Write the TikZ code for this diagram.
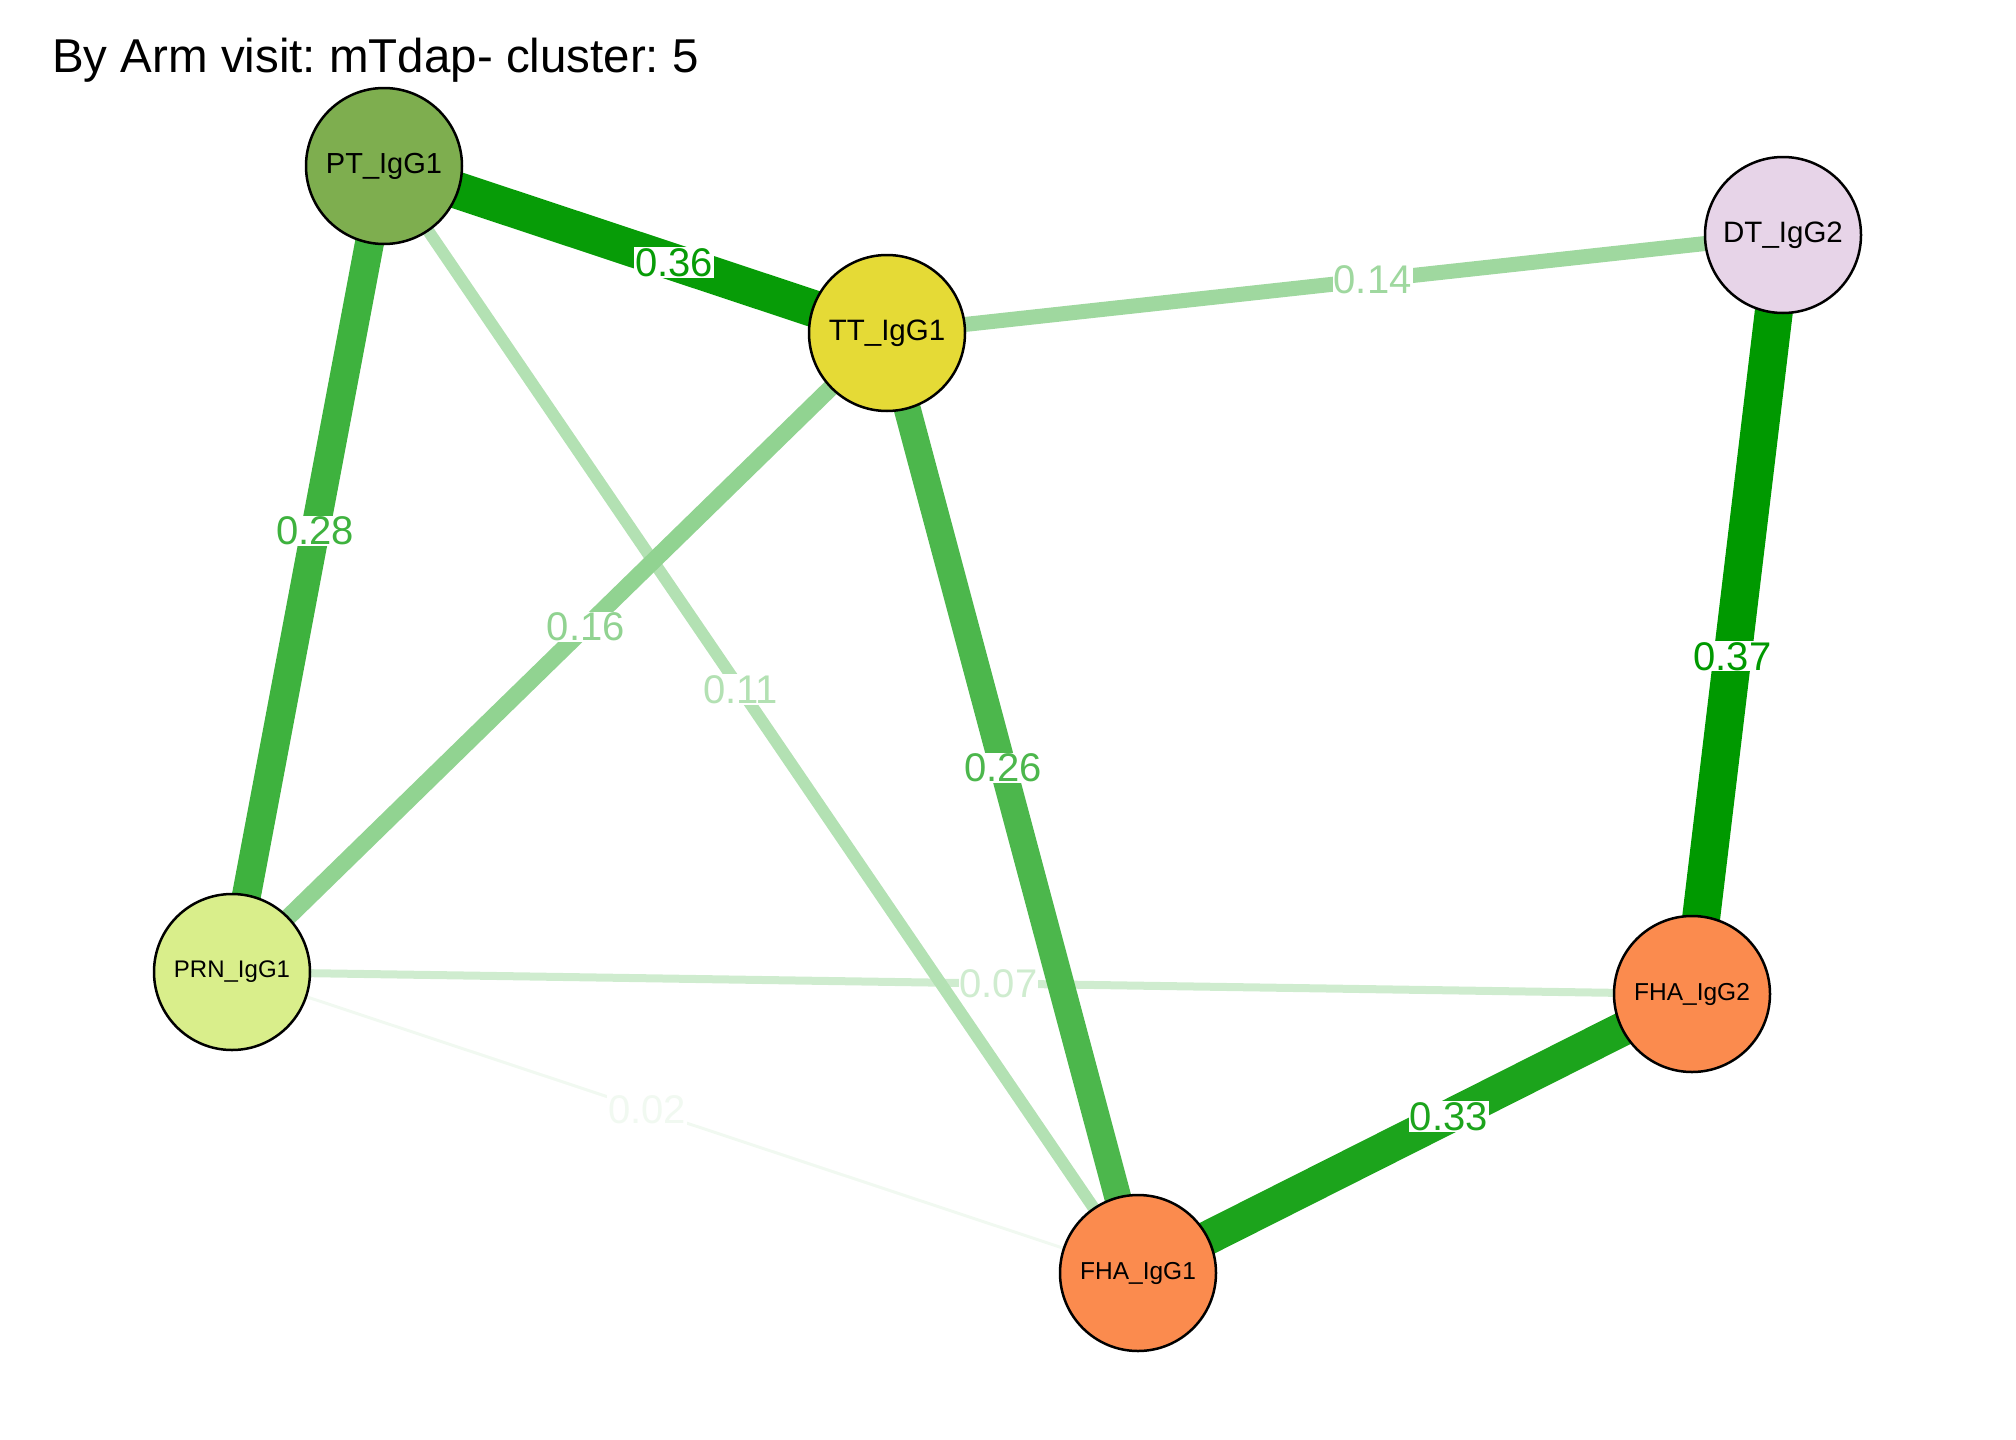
\documentclass[tikz,border=0pt]{standalone}
\usepackage{fontspec}
\setmainfont{Liberation Sans}
\usetikzlibrary{backgrounds}
\frenchspacing
\definecolor{eg}{RGB}{0,153,0}
\definecolor{cPT}{RGB}{126,174,79}
\definecolor{cTT}{RGB}{229,218,54}
\definecolor{cDT}{RGB}{231,212,232}
\definecolor{cPRN}{RGB}{217,238,139}
\definecolor{cFHA}{RGB}{251,139,78}
\tikzset{
  vert/.style={circle, draw=black, line width=2.5pt, minimum size=156pt, inner sep=0pt, text=black},
  wedge/.style={line cap=butt},
  elab/.style={fill=white, inner sep=1pt, font=\fontsize{40}{48}\selectfont},
}
\begin{document}
\begin{tikzpicture}[x=1pt,y=-1pt]
\useasboundingbox (0,0) rectangle (2016,1440);
\node[anchor=base west, inner sep=0pt, font=\fontsize{47.5}{56}\selectfont] (title) at (52,72) {By Arm visit: mTdap- cluster: 5};
\node[vert, fill=cPT, font=\fontsize{29}{35}\selectfont] (PT) at (384,166) {PT\_IgG1};
\node[vert, fill=cTT, font=\fontsize{29.5}{35}\selectfont] (TT) at (887,333) {TT\_IgG1};
\node[vert, fill=cDT, font=\fontsize{29.5}{35}\selectfont] (DT) at (1783,235) {DT\_IgG2};
\node[vert, fill=cPRN, font=\fontsize{24}{29}\selectfont] (PRN) at (232,972) {PRN\_IgG1};
\node[vert, fill=cFHA, font=\fontsize{24.5}{29}\selectfont] (FHA2) at (1692,994) {FHA\_IgG2};
\node[vert, fill=cFHA, font=\fontsize{24.5}{29}\selectfont] (FHA1) at (1138,1273) {FHA\_IgG1};
\begin{pgfonlayer}{background}
% edges, weakest first
\draw[wedge, line width=3pt, draw=eg!5.4!white] (PRN.center) -- (FHA1.center);
\draw[wedge, line width=8pt, draw=eg!18.9!white] (PRN.center) -- (FHA2.center);
\draw[wedge, line width=12pt, draw=eg!29.7!white] (PT.center) -- (FHA1.center);
\draw[wedge, line width=15pt, draw=eg!37.8!white] (TT.center) -- (DT.center);
\draw[wedge, line width=17pt, draw=eg!43.2!white] (TT.center) -- (PRN.center);
\draw[wedge, line width=27pt, draw=eg!70.3!white] (TT.center) -- (FHA1.center);
\draw[wedge, line width=29pt, draw=eg!75.7!white] (PT.center) -- (PRN.center);
\draw[wedge, line width=34pt, draw=eg!89.2!white] (FHA1.center) -- (FHA2.center);
\draw[wedge, line width=37pt, draw=eg!97.3!white] (PT.center) -- (TT.center);
\draw[wedge, line width=38pt, draw=eg] (DT.center) -- (FHA2.center);
% labels
\path (PRN.center) -- node[elab, pos=0.458, text=eg!5.4!white] (l02) {0.02} (FHA1.center);
\path (PRN.center) -- node[elab, pos=0.525, text=eg!18.9!white] (l07) {0.07} (FHA2.center);
\path (PT.center) -- node[elab, pos=0.473, text=eg!29.7!white] (l11) {0.11} (FHA1.center);
\path (TT.center) -- node[elab, pos=0.542, text=eg!37.8!white] (l14) {0.14} (DT.center);
\path (TT.center) -- node[elab, pos=0.46, text=eg!43.2!white] (l16) {0.16} (PRN.center);
\path (TT.center) -- node[elab, pos=0.463, text=eg!70.3!white] (l26) {0.26} (FHA1.center);
\path (PT.center) -- node[elab, pos=0.453, text=eg!75.7!white] (l28) {0.28} (PRN.center);
\path (FHA1.center) -- node[elab, pos=0.561, text=eg!89.2!white] (l33) {0.33} (FHA2.center);
\path (PT.center) -- node[elab, pos=0.577, text=eg!97.3!white] (l36) {0.36} (TT.center);
\path (DT.center) -- node[elab, pos=0.555, text=eg] (l37) {0.37} (FHA2.center);
\end{pgfonlayer}
\end{tikzpicture}
\end{document}
